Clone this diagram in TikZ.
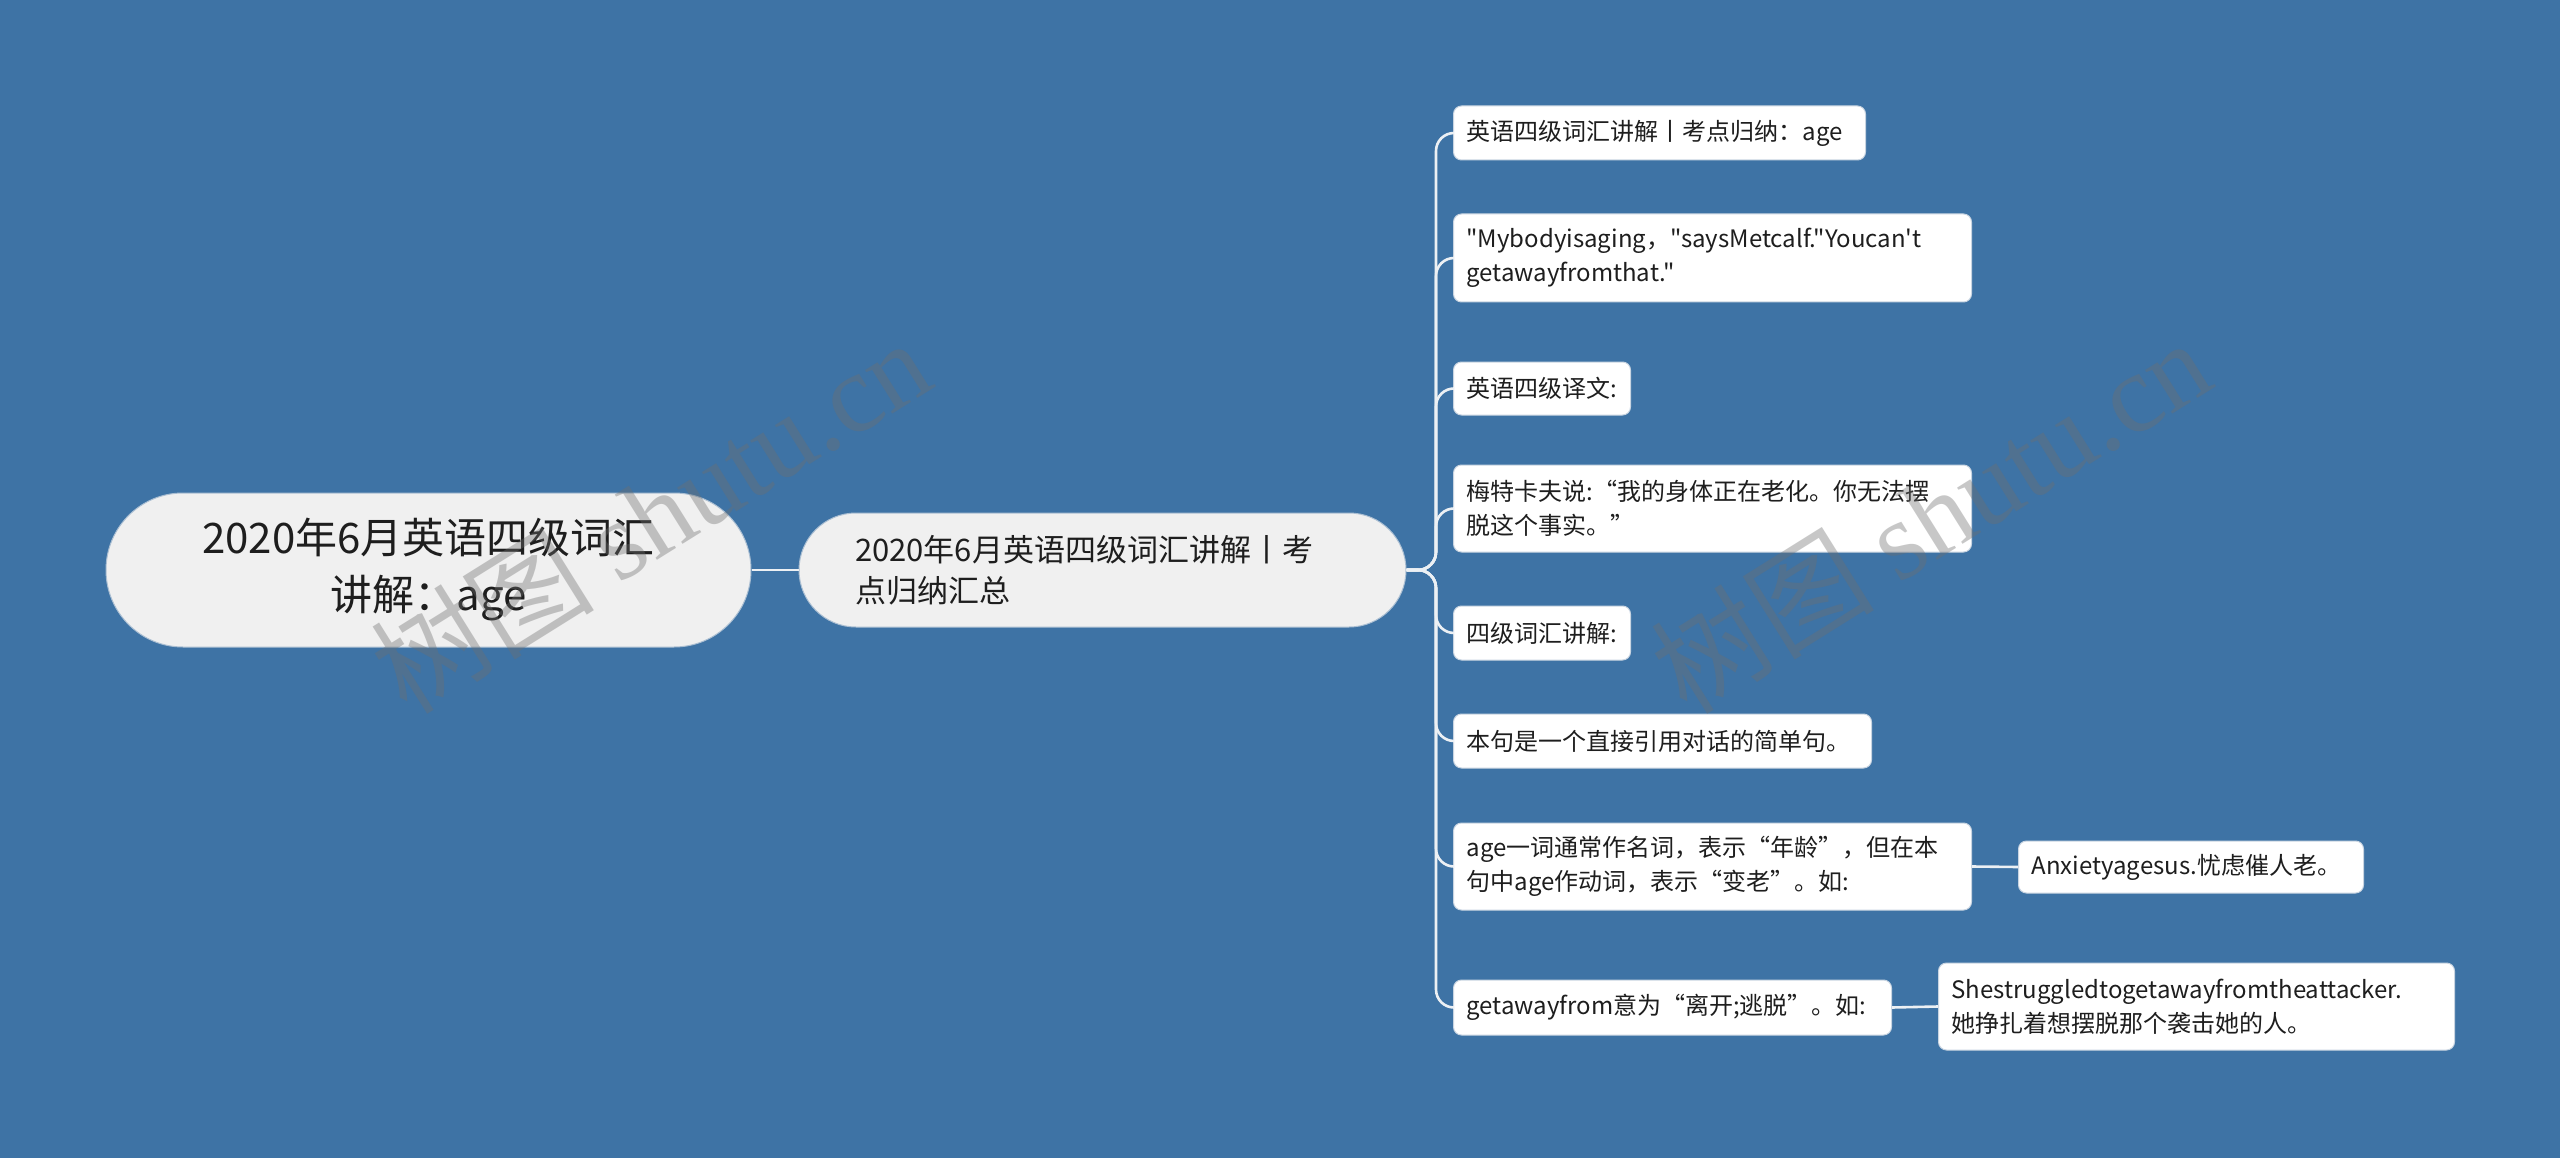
\documentclass[tikz,border=0pt]{standalone}
\usepackage{fontspec}
\setmainfont{Noto Sans CJK SC}[Ligatures=TeXOff]
\newfontfamily\wmcjk{Noto Sans CJK SC}
\newfontfamily\wmserif{Liberation Serif}
\definecolor{bgcol}{RGB}{62,115,165}
\definecolor{edgecol}{RGB}{236,240,244}
\definecolor{rootfill}{RGB}{240,240,240}
\definecolor{rootline}{RGB}{170,190,210}
\definecolor{leafline}{RGB}{200,212,225}
\definecolor{txt}{RGB}{30,30,30}
\definecolor{wm}{RGB}{110,110,110}
\begin{document}
\begin{tikzpicture}[x=1pt,y=-1pt,
  conn/.style={draw=edgecol, line width=2.6pt},
  rootbox/.style={draw=rootline, fill=rootfill, line width=1pt, text=txt, align=center,
    minimum width=645pt, minimum height=154pt, rounded corners=77pt,
    font=\fontsize{42}{57}\selectfont},
  mainbox/.style={draw=rootline, fill=rootfill, line width=1pt, text=txt, align=left,
    minimum height=114pt, rounded corners=57pt, inner xsep=56pt,
    text width=495pt, font=\fontsize{31}{41}\selectfont},
  leafbox/.style={draw=leafline, fill=white, line width=1pt, text=txt, align=left,
    rounded corners=8pt, inner xsep=13pt, anchor=west,
    font=\fontsize{24}{34}\selectfont},
  wmark/.style={text=wm, text opacity=0.38, rotate=32, font=\fontsize{112}{112}\selectfont}
]
\fill[bgcol] (0,0) rectangle (2560,1158);
\useasboundingbox (0,0) rectangle (2560,1158);

% root and main
\node[rootbox] (root) at (428.5,570) {2020年6月英语四级词汇\\讲解：age};
\node[mainbox] (main) at (1102.5,570) {2020年6月英语四级词汇讲解丨考\\点归纳汇总};

% leaves
\node[leafbox, minimum height=54pt, text width=386pt] (l1) at (1453,133) {英语四级词汇讲解丨考点归纳：age};
\node[leafbox, minimum height=88pt, text width=492pt] (l2) at (1453,258) {"Mybodyisaging，"saysMetcalf."Youcan't\\getawayfromthat."};
\node[leafbox, minimum height=53pt, text width=151pt] (l3) at (1453,388.5) {英语四级译文:};
\node[leafbox, minimum height=87pt, text width=492pt] (l4) at (1453,508.5) {梅特卡夫说:“我的身体正在老化。你无法摆\\脱这个事实。”};
\node[leafbox, minimum height=54pt, text width=151pt] (l5) at (1453,633) {四级词汇讲解:};
\node[leafbox, minimum height=54pt, text width=392pt] (l6) at (1453,741) {本句是一个直接引用对话的简单句。};
\node[leafbox, minimum height=87pt, text width=492pt] (l7) at (1453,866.5) {age一词通常作名词，表示“年龄”，但在本\\句中age作动词，表示“变老”。如:};
\node[leafbox, minimum height=55pt, text width=412pt] (l8) at (1453,1007.5) {getawayfrom意为“离开;逃脱”。如:};
\node[leafbox, minimum height=52pt, text width=319pt] (l9) at (2018,867) {Anxietyagesus.忧虑催人老。};
\node[leafbox, minimum height=87pt, text width=490pt] (l10) at (1938,1006.5) {Shestruggledtogetawayfromtheattacker.\\她挣扎着想摆脱那个袭击她的人。};

% connectors
\draw[conn] (root.east) -- (main.west);
\coordinate (trunk) at (1436,570);
\foreach \n in {l1,l2,l3,l4,l5,l6,l7,l8}{
  \draw[conn, rounded corners=18pt] (main.east) -- (trunk) |- (\n.west);
}
\draw[conn] (l7.east) -- (l9.west);
\draw[conn] (l8.east) -- (l10.west);

% watermarks (drawn on top)
\node[wmark] (wm1) at (650,515) {{\wmcjk 树图} {\wmserif shutu.cn}};
\node[wmark] (wm2) at (1930,515) {{\wmcjk 树图} {\wmserif shutu.cn}};
\end{tikzpicture}
\end{document}
